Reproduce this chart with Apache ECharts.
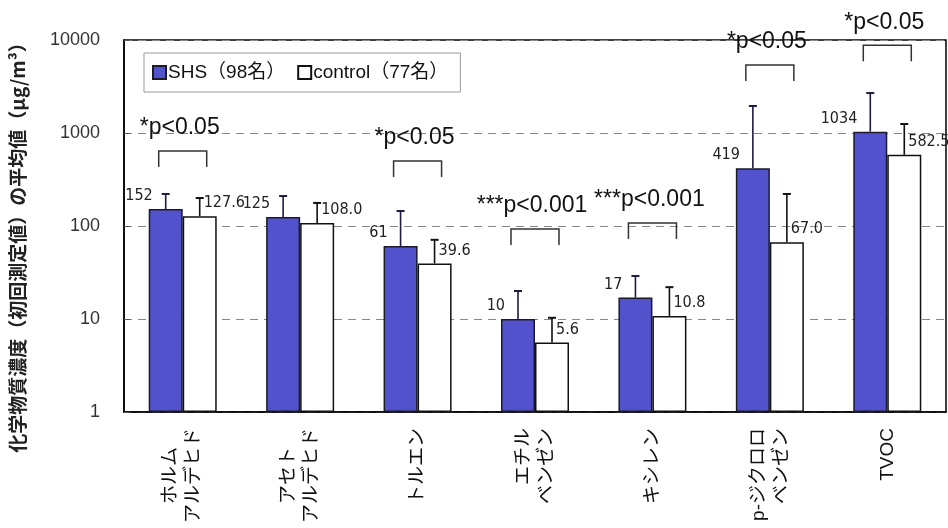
<!DOCTYPE html>
<html>
<head>
<meta charset="utf-8">
<script src="https://cdn.jsdelivr.net/npm/echarts@6/dist/echarts.min.js"></script>
<style>
  html, body { margin: 0; padding: 0; background: #fff; }
  #chart { width: 948px; height: 528px; }
</style>
</head>
<body>
<div id="chart"></div>
<script>
// categories (each line of a label is one entry)
const categories = [
  ['ホルム', 'アルデヒド'],
  ['アセト', 'アルデヒド'],
  ['トルエン'],
  ['エチル', 'ベンゼン'],
  ['キシレン'],
  ['p-ジクロロ', 'ベンゼン'],
  ['TVOC']
];
const seriesNames = ['SHS（98名）', 'control（77名）'];

// mean values
const shsMean = [152, 125, 61, 10, 17, 419, 1034];
const controlMean = [127.6, 108.0, 39.6, 5.6, 10.8, 67.0, 582.5];

// upper end of the error bars
const shsUpper = [221, 210, 145, 20, 29, 1950, 2690];
const controlUpper = [200, 177, 71, 10.3, 22, 221, 1250];

// significance brackets
const sigIndex = [0, 2, 3, 4, 5, 6];
const sigLevel = [640, 500, 93, 108, 5400, 8800];
const sigText = ['*p<0.05', '*p<0.05', '***p<0.001', '***p<0.001', '*p<0.05', '*p<0.05'];

const yTicks = [1, 10, 100, 1000, 10000];

const BAR_W = 34;
const SHS_COLOR = '#5252cc';
const LATIN = "'Liberation Sans', Arial, sans-serif";
const NARROW = "'DejaVu Sans Condensed', 'Liberation Sans', sans-serif";
const CJK = "'Noto Sans CJK JP', sans-serif";

function lineUnits(s) {
  let n = 0;
  for (const ch of s) n += ch.charCodeAt(0) < 256 ? 0.5 : 1;
  return n;
}

// pad shorter lines so they look centred inside the rotated block
function categoryLabel(lines) {
  const maxLen = Math.max(...lines.map(lineUnits));
  return lines.map(l => l + '\u3000'.repeat(Math.floor((maxLen - lineUnits(l)) / 2))).join('\n');
}

function errorItem(sign) {
  return function(params, api) {
    const idx = api.value(0);
    const bottom = api.coord([idx, api.value(1)]);
    const top = api.coord([idx, api.value(2)]);
    const x = bottom[0] + sign * BAR_W / 2;
    const c = sign < 0 ? '#1c1c44' : '#111';
    return {
      type: 'group',
      children: [
        { type: 'line', shape: { x1: x, y1: bottom[1], x2: x, y2: top[1] },
          style: { stroke: c, lineWidth: 1.6 } },
        { type: 'line', shape: { x1: x - 4, y1: top[1], x2: x + 4, y2: top[1] },
          style: { stroke: c, lineWidth: 2 } }
      ]
    };
  };
}

function sigItem(params, api) {
  const p = api.coord([api.value(0), api.value(1)]);
  const x0 = p[0] - 24, x1 = p[0] + 24, y = p[1];
  return {
    type: 'group',
    children: [
      { type: 'polyline', shape: { points: [[x0, y + 16], [x0, y], [x1, y], [x1, y + 16]] },
        style: { stroke: '#333', lineWidth: 1.5, fill: null } },
      { type: 'text', x: p[0] - 3, y: y - 23,
        style: { text: sigText[params.dataIndex], font: '23px ' + LATIN, fill: '#111',
                 align: 'center', verticalAlign: 'middle' } }
    ]
  };
}

const chart = echarts.init(document.getElementById('chart'));

const option = {
  animation: false,
  backgroundColor: '#fff',
  grid: {
    left: 124, right: 2, top: 40, bottom: 116,
    show: true, borderColor: '#000', borderWidth: 1.5, backgroundColor: 'transparent'
  },
  legend: {
    left: 144, top: 53, width: 320, height: 40,
    padding: [10, 12, 10, 8],
    borderColor: '#999', borderWidth: 1,
    itemWidth: 13, itemHeight: 13, itemGap: 12,
    icon: 'rect',
    data: seriesNames,
    textStyle: { fontSize: 19, color: '#111', fontFamily: LATIN + ", " + CJK, padding: [0, 0, 0, -3] }
  },
  graphic: [{
    type: 'text', x: 18, y: 243, rotation: Math.PI / 2,
    style: {
      text: '化学物質濃度（初回測定値）の平均値（μg/m³）',
      font: 'bold 19px ' + CJK, fill: '#222', align: 'center', verticalAlign: 'middle'
    }
  }],
  xAxis: {
    type: 'category',
    data: categories.map(categoryLabel),
    axisLine: { lineStyle: { color: '#000', width: 1.5 } },
    axisTick: { inside: true, length: 5, lineStyle: { color: '#aaa' } },
    axisLabel: {
      rotate: 90, margin: 16, interval: 0,
      fontSize: 19, lineHeight: 23, color: '#111', fontFamily: LATIN + ", " + CJK
    },
    splitLine: { show: false }
  },
  yAxis: {
    type: 'log', logBase: 10, min: yTicks[0], max: yTicks[yTicks.length - 1],
    axisLine: { show: true, lineStyle: { color: '#000', width: 1.5 } },
    axisTick: { show: true, inside: true, length: 6, lineStyle: { color: '#555' } },
    axisLabel: { fontSize: 18, color: '#333', margin: 24, fontFamily: LATIN,
                 formatter: v => String(v) },
    splitLine: { show: true, lineStyle: { color: '#888', type: [8, 6], width: 1 } },
    minorTick: { show: false }
  },
  series: [
    {
      name: seriesNames[0], type: 'bar', data: shsMean,
      barWidth: BAR_W, barGap: '0%',
      itemStyle: { color: SHS_COLOR, borderColor: '#1a1a2a', borderWidth: 1.5 },
      label: {
        show: true, position: [4, -13], align: 'right', verticalAlign: 'middle',
        formatter: p => String(p.value),
        fontSize: 16, color: '#222', fontFamily: NARROW
      },
      z: 2
    },
    {
      name: seriesNames[1], type: 'bar', data: controlMean,
      barWidth: BAR_W,
      itemStyle: { color: '#fff', borderColor: '#111', borderWidth: 1.5 },
      label: {
        show: true, position: [BAR_W / 2 + 4, -13], align: 'left', verticalAlign: 'middle',
        formatter: p => p.value.toFixed(1),
        fontSize: 16, color: '#222', fontFamily: NARROW
      },
      z: 2
    },
    {
      type: 'custom', renderItem: errorItem(-1), clip: false, z: 3,
      data: shsMean.map((v, i) => [i, v, shsUpper[i]])
    },
    {
      type: 'custom', renderItem: errorItem(1), clip: false, z: 3,
      data: controlMean.map((v, i) => [i, v, controlUpper[i]])
    },
    {
      type: 'custom', renderItem: sigItem, clip: false, z: 4,
      data: sigIndex.map((c, i) => [c, sigLevel[i]])
    }
  ]
};

chart.setOption(option);
</script>
</body>
</html>
